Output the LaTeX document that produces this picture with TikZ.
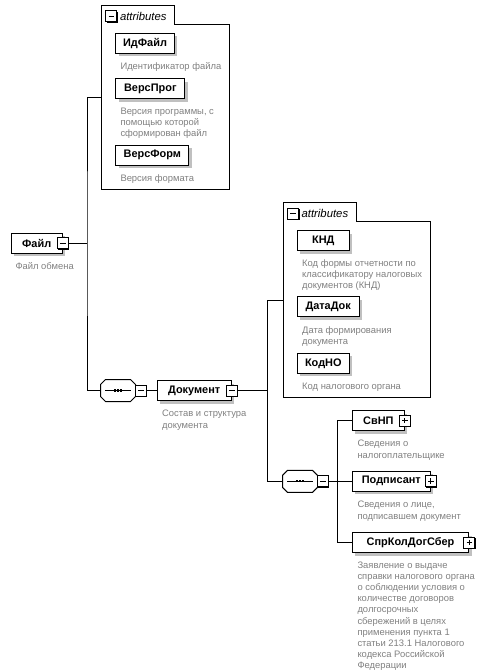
\documentclass[tikz,border=0pt]{standalone}
\usepackage{fontspec}
\setmainfont{Liberation Sans}
\usetikzlibrary{calc,shadows}
\definecolor{descgray}{HTML}{808080}
\definecolor{shadowgray}{HTML}{C0C0C0}
\newcommand\dstrut{\rule{0pt}{5.6pt}}
\newcommand\octapath[1]{($(#1.north west)+(5,0)$) -- ($(#1.north east)+(-5,0)$) -- ($(#1.north east)+(0,5)$) -- ($(#1.south east)+(0,-5)$) -- ($(#1.south east)+(-5,0)$) -- ($(#1.south west)+(5,0)$) -- ($(#1.south west)+(0,-5)$) -- ($(#1.north west)+(0,5)$) -- cycle}
\begin{document}
\begin{tikzpicture}[x=0.75pt,y=-0.75pt,line width=0.75pt,
  elem/.style={draw,fill=white,anchor=west,minimum height=15pt,inner sep=0pt,
    font=\fontsize{8.2pt}{9pt}\selectfont\bfseries,
    general shadow={fill=shadowgray,shadow xshift=2.25pt,shadow yshift=-2.25pt}},
  sq/.style={draw,fill=white,minimum size=8.25pt,inner sep=0pt,
    general shadow={fill=black,shadow xshift=0.75pt,shadow yshift=-0.75pt}},
  minus/.style={sq,path picture={\draw[line width=0.75pt]
    ([xshift=2pt]path picture bounding box.west) -- ([xshift=-2pt]path picture bounding box.east);}},
  plus/.style={sq,path picture={\draw[line width=0.75pt]
    ([xshift=2pt]path picture bounding box.west) -- ([xshift=-2pt]path picture bounding box.east)
    ([yshift=-2pt]path picture bounding box.north) -- ([yshift=2pt]path picture bounding box.south);}},
  seqbox/.style={rectangle,minimum width=25.5pt,minimum height=15.75pt,inner sep=0pt},
  frame/.style={draw,fill=white},
  tabtext/.style={anchor=west,inner sep=0pt,font=\fontsize{8.5pt}{10pt}\selectfont\itshape},
  desc/.style={anchor=north west,inner sep=0pt,align=left,text=descgray,
    font=\fontsize{7.05pt}{8.3pt}\selectfont}]
\path[use as bounding box] (0,0) rectangle (486,671);

% connector coordinates
\coordinate (j1) at (87,243.3);
\coordinate (a1) at (101.7,97.7);
\coordinate (j2) at (267.7,390.5);
\coordinate (a2) at (283.3,300);
\coordinate (j3) at (337.3,481.3);

% attribute frames
\draw[frame] (101.7,5.3) -- (174,5.3) -- (174,24.3) -- (229,24.3) -- (229,189) -- (101.7,189) -- cycle;
\node[minus] (at1sq) at (111.4,16.3) {};
\node[tabtext] (at1t) at (119.5,16) {attributes};

\draw[frame] (283.3,202.7) -- (356.7,202.7) -- (356.7,221.7) -- (430,221.7) -- (430,397.3) -- (283.3,397.3) -- cycle;
\node[minus] (at2sq) at (293,213.7) {};
\node[tabtext] (at2t) at (301.1,213.4) {attributes};

% elements
\node[elem,minimum width=38.25pt] (fajl) at (10.7,243.3) {Файл\hspace{4pt}};
\node[minus] (fajlsq) at (fajl.east) {};

\node[elem,minimum width=43.8pt] (idf) at (115.3,43.3) {ИдФайл};
\node[elem,minimum width=51.75pt] (vprog) at (115.3,88.7) {ВерсПрог};
\node[elem,minimum width=54.75pt] (vform) at (115.3,155.3) {ВерсФорм};

\node[seqbox] (seq1) at (118,390.5) {};
\node[seqbox] (seq2) at (300,481.3) {};

% sequence symbols (octagons with shadow)
\foreach \s in {seq1,seq2}{
  \fill[shadowgray,shift={(3,3)}] \octapath{\s};
  \draw[fill=white] \octapath{\s};
  \draw ([xshift=-9.75pt]\s.center) -- ([xshift=9.75pt]\s.center);
  \foreach \d in {-2.25,0,2.25}
    \fill ([xshift=\d pt]\s.center) +(-0.8pt,-0.8pt) rectangle +(0.8pt,0.8pt);
}
\node[minus] (seq1sq) at ([xshift=4.1pt]seq1.east) {};
\node[minus] (seq2sq) at ([xshift=4.1pt]seq2.east) {};

\node[elem,minimum width=55.5pt] (doc) at (156.7,390.5) {Документ\hspace{4pt}};
\node[minus] (docsq) at (doc.east) {};

\node[elem,minimum width=39.2pt] (knd) at (296.7,240.7) {КНД};
\node[elem,minimum width=46.5pt] (datadok) at (296.7,306.8) {ДатаДок};
\node[elem,minimum width=39.2pt] (kodno) at (296.7,363.3) {КодНО};

\node[elem,minimum width=39.2pt] (svnp) at (351.7,420.6) {СвНП\hspace{4pt}};
\node[plus] (svnpsq) at (svnp.east) {};
\node[elem,minimum width=58.7pt] (podp) at (351.7,481.3) {Подписант\hspace{4pt}};
\node[plus] (podpsq) at (podp.east) {};
\node[elem,minimum width=87.5pt] (sprk) at (351.7,542.5) {СпрКолДогСбер\hspace{4pt}};
\node[plus] (sprksq) at (sprk.east) {};

% connectors
\draw (fajlsq.east) -- (j1);
\draw (a1) -| (j1) |- (seq1.west);
\draw (seq1sq.east) -- (doc.west);
\draw (docsq.east) -- (j2);
\draw (a2) -| (j2) |- (seq2.west);
\draw (seq2sq.east) -- (j3);
\draw (svnp.west) -| (j3) |- (sprk.west);
\draw (j3) -- (podp.west);

% descriptions
\node[desc] (dfajl) at (15,261.4) {\dstrut Файл обмена};
\node[desc] (didf) at (120,61.7) {\dstrut Идентификатор файла};
\node[desc] (dvprog) at (120,106.4) {\dstrut Версия программы, с\\помощью которой\\сформирован файл};
\node[desc] (dvform) at (120,173.4) {\dstrut Версия формата};
\node[desc] (ddoc) at (161.7,409) {\dstrut Состав и структура\\документа};
\node[desc] (dknd) at (301.7,258.4) {\dstrut Код формы отчетности по\\классификатору налоговых\\документов (КНД)};
\node[desc] (ddata) at (301.7,325.7) {\dstrut Дата формирования\\документа};
\node[desc] (dkodno) at (301.7,381.7) {\dstrut Код налогового органа};
\node[desc] (dsvnp) at (357,439) {\dstrut Сведения о\\налогоплательщике};
\node[desc] (dpodp) at (357,500) {\dstrut Сведения о лице,\\подписавшем документ};
\node[desc] (dsprk) at (357,560.7) {\dstrut Заявление о выдаче\\справки налогового органа\\о соблюдении условия о\\количестве договоров\\долгосрочных\\сбережений в целях\\применения пункта 1\\статьи 213.1 Налогового\\кодекса Российской\\Федерации};
\end{tikzpicture}
\end{document}
